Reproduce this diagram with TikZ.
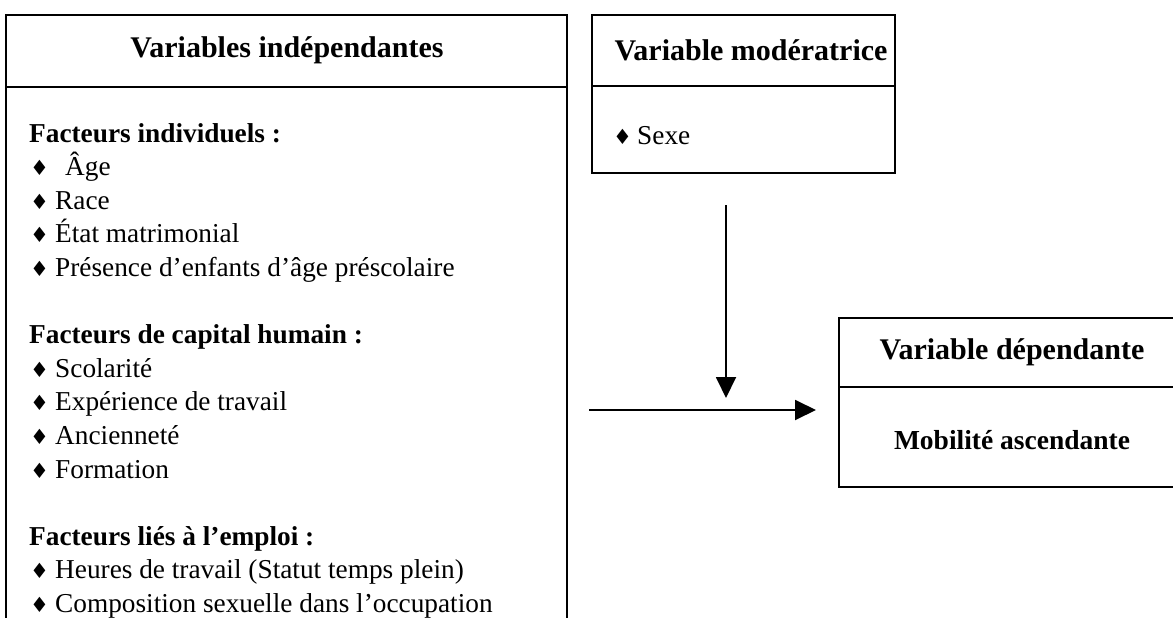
\documentclass[tikz,border=0pt]{standalone}
\usepackage{fontspec}
\setmainfont{Liberation Serif}
\newfontfamily\dvs{DejaVu Sans}
\usetikzlibrary{arrows.meta}
\newcommand{\dm}{{\dvs\fontsize{21}{21}\selectfont ♦}}
\newcommand{\bul}[1][25pt]{\makebox[#1][l]{\dm}}
\begin{document}
\begin{tikzpicture}[x=1pt,y=-1pt,
  box/.style={line width=1.9pt},
  title/.style={font=\fontsize{30}{30}\selectfont\bfseries, inner sep=0pt},
  item/.style={font=\fontsize{27.3}{27.3}\selectfont, anchor=base west, inner sep=0pt},
  head/.style={font=\fontsize{27.3}{27.3}\selectfont\bfseries, anchor=base west, inner sep=0pt},
  arr/.style={line width=1.9pt, -{Triangle[length=21pt,width=20pt]}}]
\useasboundingbox (0,0) rectangle (1173,618);
\fill[white] (0,0) rectangle (1173,618);
% independent variables box
\draw[box] (6,15) rectangle (567,700);
\draw[box] (6,87) -- (567,87);
\node[title] (tindep) at (287,50) {Variables indépendantes};
\node[head] (h1) at (29,142) {Facteurs individuels :};
\node[item] (i1) at (30,175.6) {\bul[35pt]Âge};
\node[item] (i2) at (30,209.2) {\bul Race};
\node[item] (i3) at (30,242.8) {\bul État matrimonial};
\node[item] (i4) at (30,276.4) {\bul Présence d’enfants d’âge préscolaire};
\node[head] (h2) at (29,343.6) {Facteurs de capital humain :};
\node[item] (i5) at (30,377.2) {\bul Scolarité};
\node[item] (i6) at (30,410.8) {\bul Expérience de travail};
\node[item] (i7) at (30,444.4) {\bul Ancienneté};
\node[item] (i8) at (30,478) {\bul Formation};
\node[head] (h3) at (29,545.2) {Facteurs liés à l’emploi :};
\node[item] (i9) at (30,578.8) {\bul Heures de travail (Statut temps plein)};
\node[item] (i10) at (30,612.4) {\bul Composition sexuelle dans l’occupation};
% moderator box
\draw[box] (592,15) rectangle (895,173);
\draw[box] (592,86) -- (895,86);
\node[title] (tmod) at (751,50) {Variable modératrice};
\node[item] (sexe) at (613,144) {\bul[24pt]Sexe};
% dependent box
\draw[box] (839,318) rectangle (1200,487);
\draw[box] (839,387) -- (1200,387);
\node[title] (tdep) at (1012,352) {Variable dépendante};
\node[title, font=\fontsize{27.5}{27.5}\selectfont\bfseries] (mob) at (1012,440) {Mobilité ascendante};
% arrows
\coordinate (vs) at (726,205);
\coordinate (ve) at (726,398);
\coordinate (hs) at (589,410);
\coordinate (he) at (816,410);
\draw[arr] (vs) -- (ve);
\draw[arr] (hs) -- (he);
\end{tikzpicture}
\end{document}
